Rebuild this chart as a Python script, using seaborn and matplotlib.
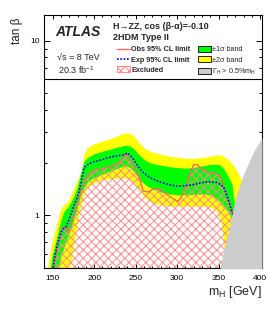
import matplotlib
matplotlib.use("Agg")
import matplotlib.pyplot as plt
from matplotlib.lines import Line2D
from matplotlib.patches import Patch
from matplotlib.ticker import MultipleLocator, FixedLocator, LogLocator, NullFormatter, FuncFormatter
import seaborn as sns

# --- dati ---
band_mass = [143, 146, 149, 152, 155, 158, 161, 164, 167, 170, 173, 176, 179, 182, 185, 188, 192,
             200, 210, 220, 230, 237, 243, 248, 253, 258, 263, 270, 280, 290, 300, 310, 320, 330,
             340, 348, 352, 355, 357, 360, 366, 372, 376, 379, 383]
yellow_hi = [0.45, 0.58, 0.70, 0.80, 0.90, 1.03, 1.12, 1.15, 1.18, 1.25, 1.35, 1.45, 1.55, 1.68, 1.85, 2.25, 2.45,
             2.57, 2.66, 2.75, 2.88, 2.96, 2.95, 2.85, 2.65, 2.48, 2.38, 2.30, 2.24, 2.18, 2.15, 2.12, 2.12, 2.14,
             2.18, 2.22, 2.22, 2.19, 2.16, 2.12, 1.98, 1.80, 1.65, 1.50, 0.30]
green_hi = [0.40, 0.45, 0.58, 0.66, 0.76, 0.87, 0.98, 1.06, 1.10, 1.15, 1.22, 1.30, 1.42, 1.62, 1.85, 2.05, 2.15,
            2.25, 2.33, 2.40, 2.47, 2.52, 2.50, 2.40, 2.25, 2.13, 2.05, 1.98, 1.94, 1.90, 1.88, 1.86, 1.88, 1.92,
            1.96, 1.96, 1.94, 1.87, 1.82, 1.72, 1.52, 0.90, 0.40, 0.30, 0.30]
green_lo = [0.30, 0.30, 0.30, 0.35, 0.48, 0.53, 0.61, 0.67, 0.73, 0.80, 0.87, 0.97, 1.08, 1.22, 1.35, 1.45, 1.56,
            1.65, 1.72, 1.80, 1.88, 1.93, 1.88, 1.78, 1.65, 1.55, 1.48, 1.42, 1.36, 1.33, 1.31, 1.31, 1.32, 1.33,
            1.31, 1.25, 1.20, 1.15, 1.12, 1.08, 0.95, 0.60, 0.30, 0.30, 0.30]
yellow_lo = [0.30, 0.30, 0.30, 0.30, 0.30, 0.30, 0.30, 0.30, 0.30, 0.48, 0.58, 0.72, 0.86, 1.05, 1.18, 1.33, 1.45,
             1.54, 1.60, 1.62, 1.64, 1.64, 1.60, 1.52, 1.42, 1.32, 1.24, 1.18, 1.15, 1.13, 1.13, 1.13, 1.13, 1.13,
             1.12, 1.06, 0.95, 0.80, 0.58, 0.30, 0.30, 0.30, 0.30, 0.30, 0.30]

exp_mass = [150, 151, 153, 156, 160, 163, 166.5, 169, 172.6, 175, 178.6, 182, 185, 188, 193, 200, 205, 215,
            227, 236, 240, 244, 248, 253, 258, 263, 270, 280, 290, 300, 311, 320, 327, 337, 348, 352, 356,
            360, 364, 366, 368]
exp_limit = [0.48, 0.52, 0.60, 0.69, 0.80, 0.84, 0.865, 0.93, 1.03, 1.12, 1.23, 1.38, 1.60, 1.88, 1.96, 2.03,
             2.05, 2.13, 2.19, 2.22, 2.27, 2.20, 2.07, 1.90, 1.78, 1.70, 1.62, 1.55, 1.50, 1.47, 1.48, 1.50,
             1.53, 1.56, 1.54, 1.50, 1.45, 1.30, 1.13, 1.05, 1.00]

obs_mass = [149, 152, 155, 158.5, 162, 164, 166.5, 169, 173, 176, 179, 182, 185, 189, 193, 198, 204, 210,
            215, 225, 232, 236, 239, 243, 247, 250, 253, 256, 259, 265, 272, 278, 290, 296, 301, 306, 311,
            316, 320, 324, 328, 336, 344, 349, 353, 357, 360, 364, 367, 370]
obs_limit = [0.45, 0.52, 0.64, 0.73, 0.85, 0.86, 0.82, 0.80, 0.93, 1.03, 1.15, 1.28, 1.42, 1.60, 1.72, 1.78,
             1.85, 1.85, 1.88, 1.95, 2.05, 2.15, 2.25, 2.10, 1.95, 1.82, 1.70, 1.56, 1.38, 1.36, 1.42, 1.42,
             1.30, 1.24, 1.20, 1.30, 1.50, 1.75, 1.95, 1.95, 1.88, 1.78, 1.74, 1.72, 1.62, 1.42, 1.30, 1.13,
             1.00, 0.80]

gamma_mass = [351.7, 357, 362.8, 369.8, 373.4, 378, 384, 392, 402.4]
gamma_tan = [0.5, 0.66, 0.84, 1.23, 1.40, 1.62, 1.90, 2.30, 2.79]

ROSSO = '#f26b6b'
TRATTEGGIO = '#ff8c8c'

# --- stile ---
sns.set_theme(style="ticks")
plt.rcParams['font.family'] = ['Liberation Sans', 'DejaVu Sans']
plt.rcParams['mathtext.default'] = 'regular'
plt.rcParams['hatch.linewidth'] = 0.7
plt.rcParams['hatch.color'] = TRATTEGGIO

fig = plt.figure(figsize=(2.76, 3.2), dpi=100)
ax = fig.add_axes([44 / 276, 1 - 268 / 320, 218 / 276, 253 / 320])
ax.set_yscale('log')

# bande +-2 sigma e +-1 sigma
ax.fill_between(band_mass, yellow_lo, yellow_hi, color='#ffff00', lw=0, zorder=1)
ax.fill_between(band_mass, green_lo, green_hi, color='#00ff00', lw=0, zorder=1.1)
# regione esclusa
ax.fill_between(obs_mass, 0.3, obs_limit, facecolor='none', edgecolor=TRATTEGGIO, hatch='xxxx', lw=0, zorder=1.5)

sns.lineplot(x=obs_mass, y=obs_limit, color=ROSSO, lw=1.0, sort=False, estimator=None, ax=ax, zorder=3)
sns.lineplot(x=exp_mass, y=exp_limit, color='#0000ff', lw=1.2, linestyle=(0, (1, 1)), sort=False,
             estimator=None, ax=ax, zorder=3.1)

# Gamma_H > 0.5% m_H
ax.fill_between(gamma_mass, 0.3, gamma_tan, color='#cccccc', lw=0, zorder=5)

ax.axhline(6, color='black', lw=0.8, zorder=6)

ax.set_xlim(139.5, 402.3)
ax.set_ylim(0.5, 14)

# assi e tacche
ax.xaxis.set_major_locator(MultipleLocator(50))
ax.xaxis.set_minor_locator(MultipleLocator(10))
ax.yaxis.set_major_locator(FixedLocator([1, 10]))
ax.yaxis.set_major_formatter(FuncFormatter(lambda v, p: f"{v:g}"))
ax.yaxis.set_minor_locator(LogLocator(base=10, subs=range(2, 10)))
ax.yaxis.set_minor_formatter(NullFormatter())
ax.tick_params(which='both', direction='in', top=True, right=True, labelsize=6, colors='black', width=0.7)
ax.tick_params(axis='x', which='major', length=3.2, pad=5)
ax.tick_params(axis='x', which='minor', length=1.6)
ax.tick_params(axis='y', which='major', length=4.3, pad=3.3)
ax.tick_params(axis='y', which='minor', length=2.5)
for sp in ax.spines.values():
    sp.set_color('black')
    sp.set_linewidth(0.8)

ax.set_xlabel(r"m$_{H}$ [GeV]", fontsize=9, ha='right')
ax.xaxis.set_label_coords(1.0, -0.062)
ax.set_ylabel("tan β", fontsize=8.5, ha='right')
ax.yaxis.set_label_coords(-0.095, 0.99)

# testi
ax.text(0.05, 0.933, 'ATLAS', transform=ax.transAxes, fontsize=10, fontweight='bold',
        fontstyle='italic', va='center')
ax.text(0.317, 0.953, 'H→ZZ, cos (β-α)=-0.10', transform=ax.transAxes, fontsize=6.5,
        fontweight='bold', va='center')
ax.text(0.317, 0.911, '2HDM Type II', transform=ax.transAxes, fontsize=6.5,
        fontweight='bold', va='center')
ax.text(0.06, 0.834, '√s = 8 TeV', transform=ax.transAxes, fontsize=6.5, va='center')
ax.text(0.065, 0.783, '20.3 fb$^{-1}$', transform=ax.transAxes, fontsize=6.5, va='center')

# legende
h1 = [Line2D([], [], color=ROSSO, lw=1.0),
      Line2D([], [], color='#0000ff', lw=1.2, linestyle=(0, (1, 1))),
      Patch(facecolor='white', edgecolor=TRATTEGGIO, hatch='xxxx', lw=0.8)]
l1 = ['Obs 95% CL limit', 'Exp 95% CL limit', 'Excluded']
leg1 = ax.legend(h1, l1, loc='upper left', bbox_to_anchor=(0.335, 0.878), frameon=False,
                 prop={'size': 5.2, 'weight': 'bold'}, handlelength=1.8, handleheight=0.85,
                 handletextpad=0.2, labelspacing=0.4, borderaxespad=0, borderpad=0)
leg1.set_zorder(7)
ax.add_artist(leg1)

h2 = [Patch(facecolor='#00ff00', edgecolor='black', lw=0.6),
      Patch(facecolor='#ffff00', edgecolor='black', lw=0.6),
      Patch(facecolor='#cccccc', edgecolor='black', lw=0.6)]
l2 = ['±1σ band', '±2σ band', r'$\Gamma_H$ > 0.5%m$_H$']
leg2 = ax.legend(h2, l2, loc='upper left', bbox_to_anchor=(0.706, 0.878), frameon=False,
                 prop={'size': 5.2}, handlelength=1.8, handleheight=0.85,
                 handletextpad=0.2, labelspacing=0.4, borderaxespad=0, borderpad=0)
leg2.set_zorder(7)

fig.savefig("out.png", dpi=100)
plt.close(fig)
